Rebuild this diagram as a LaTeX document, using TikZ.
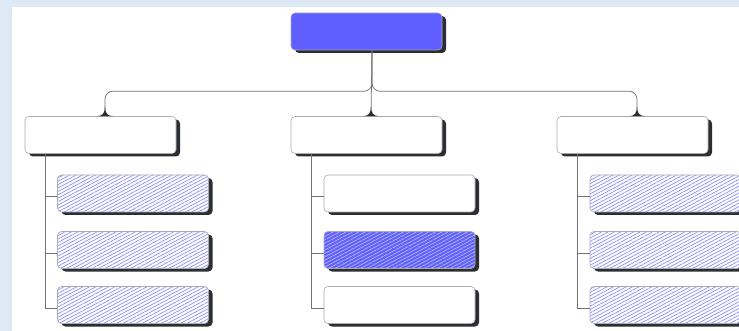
\documentclass[tikz,border=0pt]{standalone}
\usepackage{tikz}
\usetikzlibrary{shadows,patterns.meta}
\usetikzlibrary{calc}

\definecolor{pagebg}{HTML}{DEE9F5}
\definecolor{rootblue}{HTML}{5F5FFF}
\definecolor{hatchblue}{HTML}{9090FF}
\definecolor{hatchpale}{HTML}{B4B4FF}
\definecolor{shadowgray}{HTML}{2B2E33}

\tikzset{
	box/.style={draw=gray!65, line width=0.6pt, rounded corners=4pt,
		minimum width=151pt, minimum height=37pt, inner sep=0pt,
		drop shadow={shadow xshift=4pt, shadow yshift=-3pt, fill=shadowgray, opacity=1}},
	plainbox/.style={fill=white},
	hatch/.style={preaction={fill=white},
		pattern={Lines[angle=28,distance=3pt,line width=0.75pt]}, pattern color=hatchblue},
	darkhatch/.style={preaction={fill=rootblue},
		pattern={Lines[angle=28,distance=3pt,line width=0.75pt]}, pattern color=hatchpale},
	link/.style={draw=gray!90!black, line width=0.75pt},
	flare/.style={fill=shadowgray}
}

\begin{document}
\begin{tikzpicture}[x=1pt,y=-1pt]
		\useasboundingbox (0,0) rectangle (739,331);
		\clip (0,0) rectangle (739,331);
		\fill[pagebg] (0,0) rectangle (739,331);
		\fill[white] (12,7) rectangle (739,331);

		% top and second level
		\node[box, fill=rootblue] (root) at (366.5,31.5) {};
		\foreach \n/\x in {a/100.5, b/366.5, c/632.5}
			\node[box, plainbox] (\n) at (\x,135) {};

		% leaves, three per column
		\foreach \n/\x/\p/\q/\r in {a/133/hatch/hatch/hatch, b/399.5/plainbox/darkhatch/plainbox, c/665.5/hatch/hatch/hatch}
		{
			\node[box, \p] (\n-1) at (\x,193.5) {};
			\node[box, \q] (\n-2) at (\x,250) {};
			\node[box, \r] (\n-3) at (\x,305) {};
		}

		% root to second level
		\draw[link] ([xshift=5.5pt]root.south) -- ([xshift=4.5pt]b.north);
		\draw[link, rounded corners=8pt] ([xshift=5.5pt]root.south) |- ([xshift=4.5pt,yshift=25pt]a.north) -- ([xshift=4.5pt]a.north);
		\draw[link, rounded corners=8pt] ([xshift=5.5pt]root.south) |- ([xshift=4.5pt,yshift=25pt]c.north) -- ([xshift=4.5pt]c.north);
		\foreach \n in {a,b,c}
			\fill[flare] ([xshift=-4pt]\n.north) .. controls +(6,0) and +(0,7) .. ([xshift=4.5pt,yshift=10pt]\n.north)
				.. controls +(0,7) and +(-6,0) .. ([xshift=13pt]\n.north) -- cycle;

		% second level to leaves
		\foreach \n in {a,b,c}
			\foreach \i in {1,2,3}
				\draw[link] ([xshift=21pt]\n.south west) |- ([yshift=-3pt]\n-\i.west);
\end{tikzpicture}
\end{document}
